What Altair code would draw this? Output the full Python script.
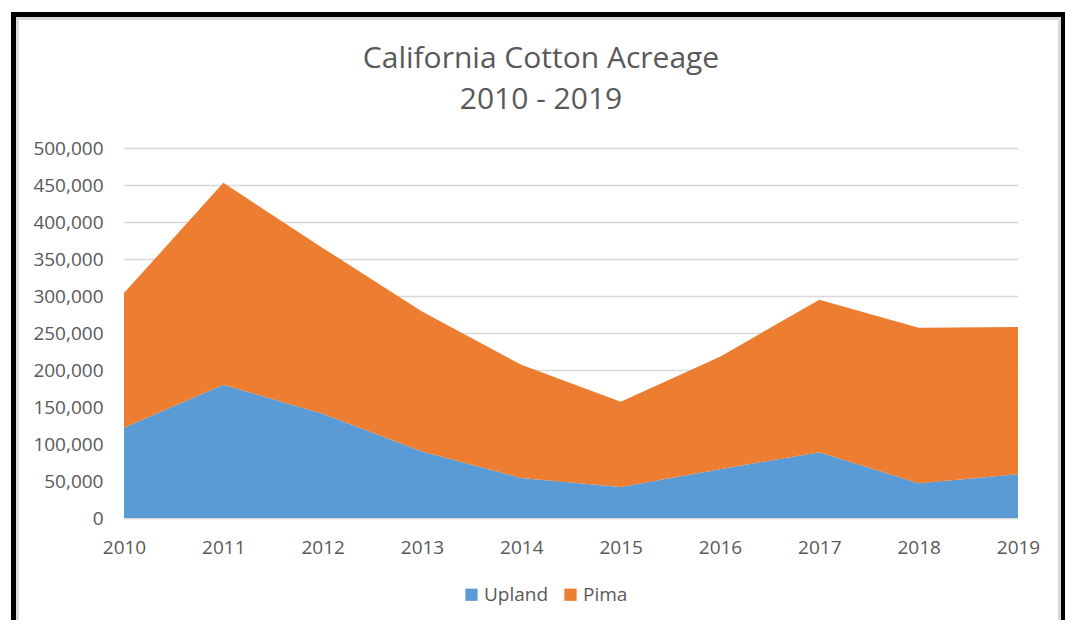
import altair as alt
import pandas as pd

years = [2010, 2011, 2012, 2013, 2014, 2015, 2016, 2017, 2018, 2019]
upland = [122000, 180000, 141000, 90000, 54000, 42000, 66000, 89000, 47000, 59000]
pima = [182000, 273000, 224000, 189000, 153000, 115000, 152000, 206000, 210000, 199000]
series = ["Upland", "Pima"]
colors = ["#5B9BD5", "#ED7D31"]
title_lines = ["California Cotton Acreage", "2010 - 2019"]

rows = []
for i, y in enumerate(years):
    rows.append({"year": y, "series": "Upland", "value": upland[i], "ord": 0})
    rows.append({"year": y, "series": "Pima", "value": pima[i], "ord": 1})
df = pd.DataFrame(rows)

FONT = "Open Sans"
GREY_TXT = "#595959"
GRID = "#d9d9d9"

frame_df = pd.DataFrame({"k": [0]})
black_frame = alt.Chart(frame_df).mark_rect(fillOpacity=0, stroke="black", strokeWidth=5).encode(
    x=alt.value(-110.5), x2=alt.value(938.5), y=alt.value(-133.5), y2=alt.value(520)
)
grey_frame = alt.Chart(frame_df).mark_rect(fillOpacity=0, stroke=GRID, strokeWidth=3).encode(
    x=alt.value(-106.5), x2=alt.value(935.5), y=alt.value(-129.5), y2=alt.value(520)
)

area = alt.Chart(df).mark_area(opacity=1).encode(
    x=alt.X("year:Q",
            scale=alt.Scale(domain=[2010, 2019], nice=False, zero=False),
            axis=alt.Axis(values=years, format="d", title=None, grid=False, ticks=False,
                          domain=True, domainColor=GRID, domainWidth=1.5,
                          labelFlush=False, labelPadding=20, labelFont=FONT,
                          labelFontSize=19, labelColor=GREY_TXT)),
    y=alt.Y("value:Q", stack="zero",
            scale=alt.Scale(domain=[0, 500000], nice=False),
            axis=alt.Axis(values=list(range(0, 500001, 50000)), format=",.0f", title=None,
                          grid=True, gridColor=GRID, gridWidth=1.5, ticks=False, domain=False,
                          labelPadding=21, labelFont=FONT, labelFontSize=19,
                          labelColor=GREY_TXT)),
    color=alt.Color("series:N", sort=series,
                    scale=alt.Scale(domain=series, range=colors),
                    legend=alt.Legend(title=None, orient="none", direction="horizontal",
                                      legendX=338, legendY=437, symbolType="square",
                                      symbolSize=150, symbolStrokeWidth=0,
                                      labelFont=FONT, labelFontSize=19,
                                      labelColor=GREY_TXT, columnPadding=12,
                                      labelOffset=3)),
    order=alt.Order("ord:Q"),
)

chart = alt.layer(black_frame, grey_frame, area).properties(
    width=894,
    height=370,
    background="white",
    autosize=alt.AutoSizeParams(type="none"),
    padding={"left": 116, "top": 140, "right": 47, "bottom": 102},
    title=alt.TitleParams(text=title_lines, font=FONT, fontSize=30, fontWeight="normal",
                          color=GREY_TXT, anchor="middle", lineHeight=41, dx=-30,
                          offset=0, dy=103),
).configure_view(stroke=None, strokeWidth=0)

chart.save("out.html", embed_options={"renderer": "svg", "actions": False})
